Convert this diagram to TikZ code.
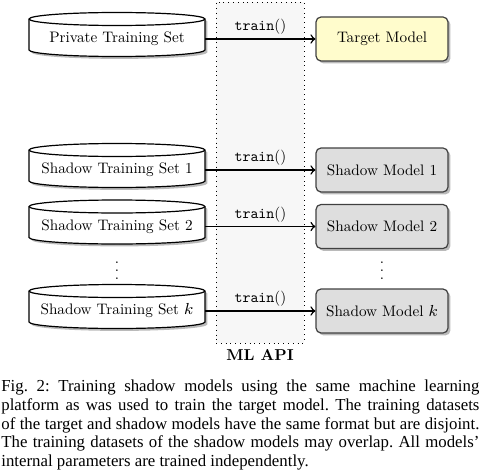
\documentclass[tikz,border=0pt]{standalone}
\usepackage{fontspec}
\setmainfont{lmroman10-regular.otf}[BoldFont=lmroman10-bold.otf, ItalicFont=lmroman10-italic.otf]
\setmonofont{lmmono10-regular.otf}
\newfontfamily\capfont[Ligatures=TeX]{Liberation Serif}
\usetikzlibrary{shadows,backgrounds}
\newcommand\drawdb[1]{%
  \begin{scope}[shift={(#1.center)}]
    \filldraw[dbshape] (-88,-11) arc[start angle=180,end angle=360,x radius=88,y radius=6.5]
      -- (88,20) arc[start angle=0,end angle=180,x radius=88,y radius=6.5] -- cycle;
    \draw[line width=0.6pt] (-88,20) arc[start angle=180,end angle=360,x radius=88,y radius=6.5];
  \end{scope}}
\begin{document}
\begin{tikzpicture}[x=0.5pt,y=0.5pt,
  font=\fontsize{7.6}{9}\selectfont,
  dbnode/.style={minimum width=88pt, minimum height=14pt, inner sep=0pt},
  dbshape/.style={fill=white, draw=black, line width=0.6pt,
    drop shadow={shadow xshift=1.2pt, shadow yshift=-1.2pt, fill=black!45, opacity=0.6}},
  model/.style={draw=black!75, line width=0.6pt, rounded corners=2.5pt,
    minimum width=66pt, minimum height=22pt,
    drop shadow={shadow xshift=1.2pt, shadow yshift=-1.2pt, fill=black!45, opacity=0.6}},
  target/.style={model, fill=yellow!20},
  shadowm/.style={model, fill=black!13},
  arr/.style={->, line width=0.75pt},
  lbl/.style={midway, above, inner sep=1.8pt},
  vdotsnode/.style={inner sep=0pt}]
\useasboundingbox (0,0) rectangle (480,472);
% ML API box
\node[draw, dotted, fill=black!3, minimum width=44pt, minimum height=170.5pt, inner sep=0pt] (api) at (260,299.5) {};
\node[anchor=north, inner sep=0pt, font=\fontsize{7.9}{9.5}\selectfont\bfseries] (apilbl) at ([yshift=-2.8pt]api.south) {ML API};
% data sets
\node[dbnode] (p)  at (117,433)   {Private Training Set};
\node[dbnode] (s1) at (117,302)   {Shadow Training Set 1};
\node[dbnode] (s2) at (117,245.5) {Shadow Training Set 2};
\node[dbnode] (sk) at (117,161)   {Shadow Training Set $k$};
\node[vdotsnode] (ldots) at (117,207) {$\vdots$};
\begin{scope}[on background layer]
  \drawdb{p}\drawdb{s1}\drawdb{s2}\drawdb{sk}
\end{scope}
% models
\node[target]  (t)  at (382,433)   {Target Model};
\node[shadowm] (m1) at (382,302)   {Shadow Model 1};
\node[shadowm] (m2) at (382,245.5) {Shadow Model 2};
\node[shadowm] (mk) at (382,161)   {Shadow Model $k$};
\node[vdotsnode] (rdots) at (382,207) {$\vdots$};
% arrows
\draw[arr] (p.east)  -- (t.west)  node[lbl] {\texttt{train}()};
\draw[arr] (s1.east) -- (m1.west) node[lbl] {\texttt{train}()};
\draw[arr] (s2.east) -- (m2.west) node[lbl] {\texttt{train}()};
\draw[arr] (sk.east) -- (mk.west) node[lbl] {\texttt{train}()};
% caption
\node[anchor=north west, inner sep=0pt, text width=239pt, align=justify,
  font=\capfont\fontsize{8.4}{9.4}\selectfont] (cap) at (1,92.5)
  {\noindent\frenchspacing Fig.~2: Training shadow models using the same machine learning\linebreak
   platform as was used to train the target model. The training datasets\linebreak
   of the target and shadow models have the same format but are disjoint.\linebreak
   The training datasets of the shadow models may overlap. All models’\linebreak
   internal parameters are trained independently.};
\end{tikzpicture}
\end{document}
